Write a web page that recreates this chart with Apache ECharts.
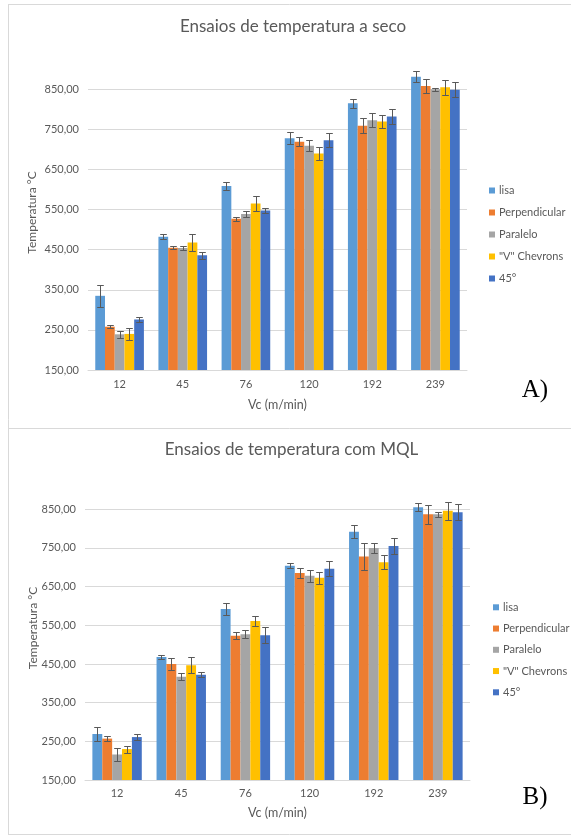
<!DOCTYPE html>
<html>
<head>
<meta charset="utf-8">
<script src="https://cdn.jsdelivr.net/npm/echarts@6/dist/echarts.min.js"></script>
<style>
html,body{margin:0;padding:0;background:#fff;}
#c{width:571px;height:836px;}
</style>
</head>
<body>
<div id="c"></div>
<script>
// ---- data ----
const categories = ['12', '45', '76', '120', '192', '239'];
const seriesNames = ['lisa', 'Perpendicular', 'Paralelo', '"V" Chevrons', '45°'];
const colors = ['#5B9BD5', '#ED7D31', '#A5A5A5', '#FFC000', '#4472C4'];
const yTicks = [150, 250, 350, 450, 550, 650, 750, 850];
const yAxisMax = 950;

// Chart A: Ensaios de temperatura a seco
const secoLisa = [335, 482, 609, 728, 815, 881];
const secoPerp = [258, 455, 527, 719, 759, 858];
const secoParal = [239, 454, 539, 709, 773, 850];
const secoV = [240, 468, 565, 690, 770, 855];
const seco45 = [276, 436, 548, 723, 782, 849];
const secoLisaErr = [27, 6, 11, 15, 12, 14];
const secoPerpErr = [4, 3, 5, 11, 19, 17];
const secoParalErr = [9, 5, 7, 14, 18, 3];
const secoVErr = [14, 22, 19, 17, 17, 18];
const seco45Err = [7, 8, 7, 17, 18, 19];

// Chart B: Ensaios de temperatura com MQL
const mqlLisa = [269, 468, 592, 704, 792, 855];
const mqlPerp = [257, 450, 523, 685, 728, 837];
const mqlParal = [216, 417, 527, 678, 750, 837];
const mqlV = [230, 447, 561, 673, 713, 846];
const mql45 = [261, 422, 524, 696, 755, 842];
const mqlLisaErr = [19, 4, 15, 6, 17, 10];
const mqlPerpErr = [6, 15, 9, 12, 34, 25];
const mqlParalErr = [18, 9, 10, 16, 14, 7];
const mqlVErr = [9, 20, 14, 16, 18, 23];
const mql45Err = [7, 6, 21, 19, 21, 21];

// ---- build ----
const FONT = 'Lato';
const TXT = '#595959';
const GRIDC = '#d9d9d9';
const CAT_GAP = 0.23;

const secoVals = [secoLisa, secoPerp, secoParal, secoV, seco45];
const secoErrs = [secoLisaErr, secoPerpErr, secoParalErr, secoVErr, seco45Err];
const mqlVals = [mqlLisa, mqlPerp, mqlParal, mqlV, mql45];
const mqlErrs = [mqlLisaErr, mqlPerpErr, mqlParalErr, mqlVErr, mql45Err];

function makeErr(idx) {
  return function (params, api) {
    const c = api.value(0), v = api.value(1), e = api.value(2);
    const center = api.coord([c, v]);
    const cw = api.size([1, 0])[0];
    const bw = cw * (1 - CAT_GAP) / 5;
    const x = Math.round(center[0] + (idx - 2) * bw) + 0.5;
    const top = Math.round(api.coord([c, v + e])[1]) + 0.5;
    const bot = Math.round(api.coord([c, v - e])[1]) + 0.5;
    const cap = 3.3;
    const st = { stroke: '#595959', lineWidth: 1 };
    return {
      type: 'group',
      children: [
        { type: 'line', shape: { x1: x, y1: top, x2: x, y2: bot }, style: st },
        { type: 'line', shape: { x1: x - cap, y1: top, x2: x + cap, y2: top }, style: st },
        { type: 'line', shape: { x1: x - cap, y1: bot, x2: x + cap, y2: bot }, style: st }
      ]
    };
  };
}

function xAxisFor(gi, margin, nameGap) {
  return {
    type: 'category', gridIndex: gi, data: categories,
    axisLine: { lineStyle: { color: GRIDC, width: 1 } },
    axisTick: { show: false },
    axisLabel: { color: TXT, fontFamily: FONT, fontSize: 11, margin: margin },
    name: 'Vc (m/min)', nameLocation: 'middle', nameGap: nameGap,
    nameTextStyle: { color: TXT, fontFamily: FONT, fontSize: 12.5 }
  };
}
function yAxisFor(gi) {
  return {
    type: 'value', gridIndex: gi, min: yTicks[0], max: yAxisMax, interval: 100,
    axisLine: { show: false }, axisTick: { show: false },
    splitLine: { showMaxLine: false, lineStyle: { color: GRIDC, width: 1 } },
    axisLabel: {
      color: TXT, fontFamily: FONT, fontSize: 11, margin: 9, showMaxLabel: false,
      formatter: v => (yTicks.indexOf(v) >= 0 ? v.toFixed(2).replace('.', ',') : '')
    }
  };
}

const series = [];
[[secoVals, secoErrs, 0], [mqlVals, mqlErrs, 1]].forEach(([vals, errs, gi]) => {
  vals.forEach((arr, i) => {
    series.push({
      name: seriesNames[i], type: 'bar', xAxisIndex: gi, yAxisIndex: gi,
      data: arr, barGap: 0, barCategoryGap: (CAT_GAP * 100) + '%',
      itemStyle: { color: colors[i] }, silent: true
    });
  });
  vals.forEach((arr, i) => {
    series.push({
      name: 'err' + gi + '_' + i, type: 'custom', xAxisIndex: gi, yAxisIndex: gi,
      renderItem: makeErr(i), clip: false, silent: true, z: 5,
      encode: { x: 0, y: 1 },
      data: arr.map((v, k) => [k, v, errs[i][k]])
    });
  });
});

function legendFor(left, top, gap) {
  return {
    orient: 'vertical', left: left, top: top, data: seriesNames,
    icon: 'rect', itemWidth: 6, itemHeight: 6, itemGap: gap,
    selectedMode: false,
    textStyle: { color: TXT, fontFamily: FONT, fontSize: 11, lineHeight: 14, padding: [0, 0, 0, -1] }
  };
}

function txt(x, y, text, size, extra) {
  return {
    type: 'text', x: x, y: y, silent: true,
    style: Object.assign({ text: text, fill: TXT, font: size + 'px ' + FONT, textAlign: 'center', textVerticalAlign: 'middle' }, (extra || {}))
  };
}
function line(x1, y1, x2, y2) {
  return { type: 'line', silent: true, shape: { x1, y1, x2, y2 }, style: { stroke: GRIDC, lineWidth: 1 } };
}

const chart = echarts.init(document.getElementById('c'), null, { renderer: 'canvas' });
chart.setOption({
  backgroundColor: '#fff',
  animation: false,
  grid: [
    { left: 88, top: 49.2, width: 379, height: 320.8, containLabel: false },
    { left: 85, top: 470.6, width: 385, height: 309.4, containLabel: false }
  ],
  xAxis: [xAxisFor(0, 9, 28), xAxisFor(1, 8, 26)],
  yAxis: [yAxisFor(0), yAxisFor(1)],
  legend: [legendFor(484, 178.5, 8), legendFor(488, 595.3, 7.25)],
  series: series,
  graphic: [
    line(8, 4.5, 571, 4.5),
    line(8.5, 4.5, 8.5, 834.5),
    line(8, 428.5, 571, 428.5),
    line(8, 834.5, 571, 834.5),
    txt(293, 27, 'Ensaios de temperatura a seco', 17),
    txt(291.5, 450, 'Ensaios de temperatura com MQL', 17),
    Object.assign(txt(32.5, 212.5, 'Temperatura °C', 12), { rotation: Math.PI / 2 }),
    Object.assign(txt(33, 628, 'Temperatura °C', 12), { rotation: Math.PI / 2 }),
    txt(535, 390, 'A)', 25, { fill: '#000', font: '25px "Liberation Serif"' }),
    txt(535, 797, 'B)', 25, { fill: '#000', font: '25px "Liberation Serif"' })
  ]
});
</script>
</body>
</html>
